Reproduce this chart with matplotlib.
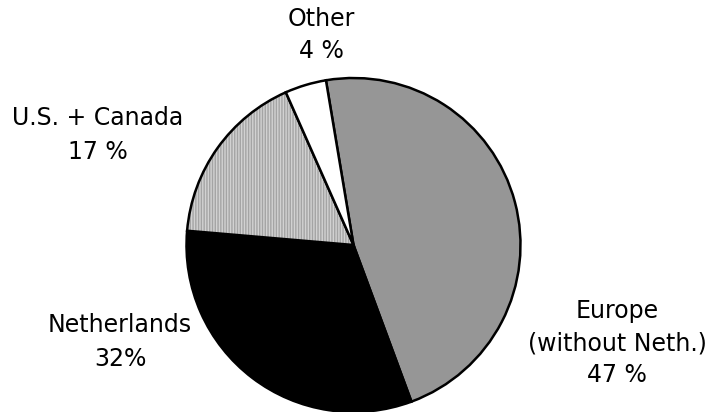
import matplotlib
matplotlib.use("Agg")
import matplotlib.pyplot as plt
from matplotlib.colors import to_rgba

# Data
categories = ["Europe\n(without Neth.)", "Netherlands", "U.S. + Canada", "Other"]
shares = [47, 32, 17, 4]
pct_labels = ["47 %", "32%", "17 %", "4 %"]

colors = ["#969696", "#000000", "#d2d2d2", "#ffffff"]

W, H = 714, 412
fig = plt.figure(figsize=(W / 100, H / 100), dpi=100)
ax = fig.add_axes([0, 0, 1, 1])

cx, cy_img, radius = 353.5, 245, 167
wedges, _ = ax.pie(shares, colors=colors, startangle=99.5, counterclock=False,
                   center=(cx, H - cy_img), radius=radius, frame=True,
                   wedgeprops=dict(edgecolor="black", linewidth=1.8))

# vertical stripe texture on U.S. + Canada
plt.rcParams['hatch.linewidth'] = 0.6
us = wedges[2]
us.set_hatch("|" * 6)
us._hatch_color = to_rgba("#a4a4a4")

ax.set_xlim(0, W)
ax.set_ylim(0, H)
ax.set_aspect("equal")
ax.axis("off")

# label layout: (center x, first baseline y in image px, line spacing)
label_pos = [(617, 318, 32), (120, 331.5, 35), (98, 125, 33.5), (321, 26, 32)]
for cat, pct, (x, y0, dy) in zip(categories, pct_labels, label_pos):
    lines = cat.split("\n") + [pct]
    for i, line in enumerate(lines):
        ax.text(x, H - (y0 + i * dy), line, ha="center", va="baseline",
                fontsize=17, family="DejaVu Sans", color="black")

fig.savefig("out.png", dpi=100)
